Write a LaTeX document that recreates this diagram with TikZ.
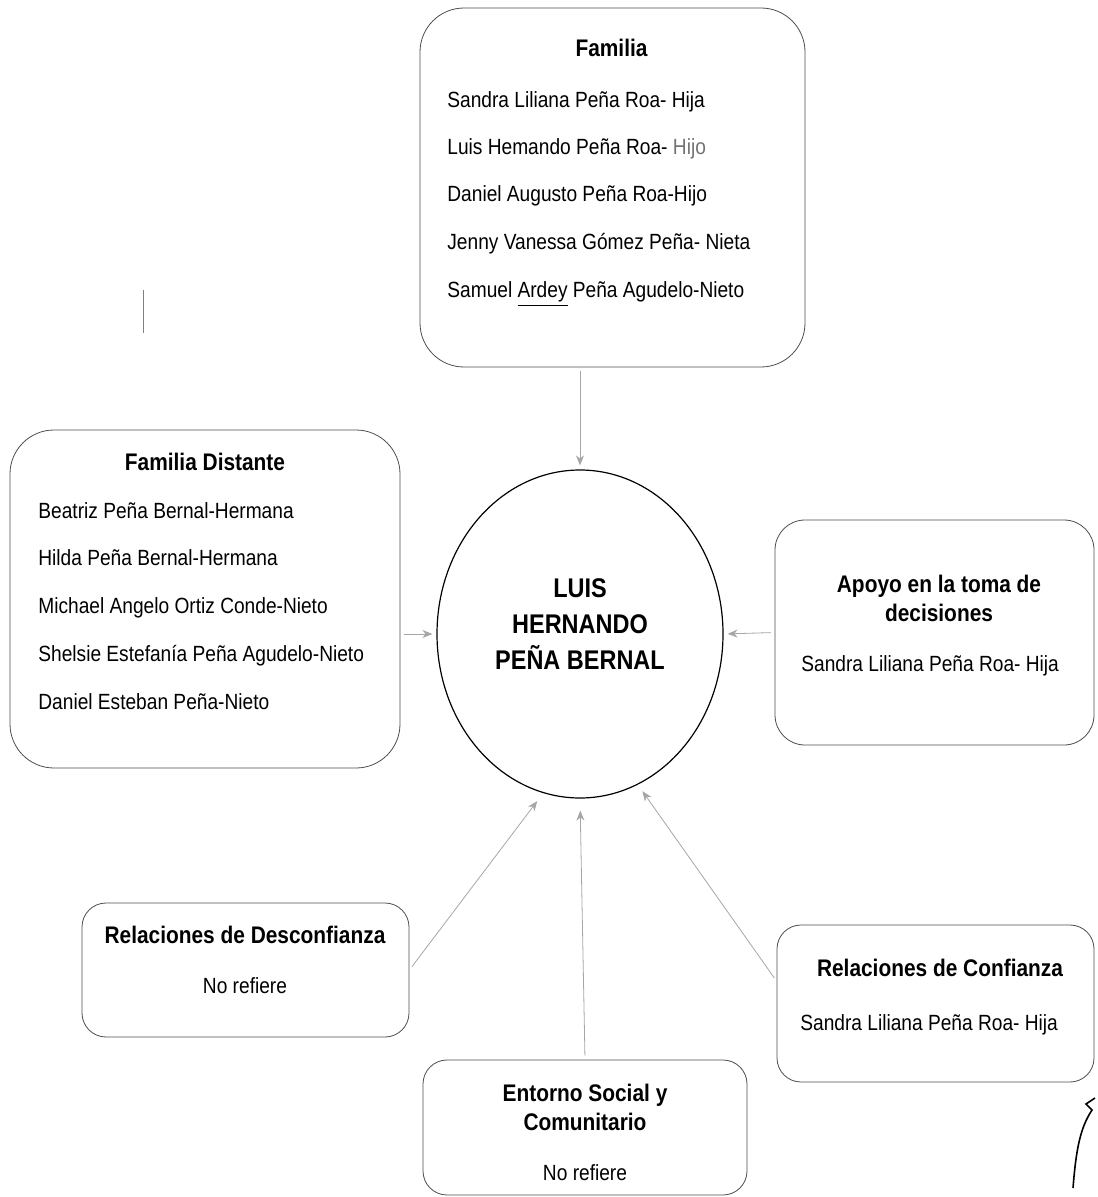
\documentclass[tikz,border=0pt]{standalone}
\usepackage{fontspec}
\setmainfont{Liberation Sans}[FakeStretch=0.87]
\usepackage{tikz}
\usetikzlibrary{arrows.meta, positioning, shapes.geometric, calc}
\colorlet{boxgray}{black!70}
\colorlet{arrowgray}{black!35}

\begin{document}
\begin{tikzpicture}[x=0.5pt, y=-0.5pt, >=Stealth,
    box/.style = {rectangle, rounded corners=22pt, draw=boxgray, thin},
    smallbox/.style = {box, rounded corners=12pt},
    head/.style = {font=\fontsize{12}{14.5}\selectfont\bfseries, inner sep=0pt, text height=8.5pt, text depth=0pt},
    headtwo/.style = {font=\fontsize{12}{14.5}\selectfont\bfseries, inner sep=0pt, align=center},
    item/.style = {font=\fontsize{11}{13}\selectfont, anchor=west, inner sep=0pt, text height=8pt, text depth=0pt},
    arrow/.style = {thin,->,>={Stealth[length=5pt,width=4pt]},arrowgray, shorten >=2pt, shorten <=2pt}]
        \useasboundingbox (0,0) rectangle (1097,1197);

        % Boxes
        \node (fam) [box, minimum width=192.5pt, minimum height=179.5pt] at (612.5,187.5) {};
        \node (dist) [box, minimum width=195pt, minimum height=169pt] at (205,599) {};
        \node (apoyo) [box, rounded corners=15pt, minimum width=159.5pt, minimum height=112.5pt] at (934.5,632.5) {};
        \node (desc) [smallbox, minimum width=163.5pt, minimum height=67pt] at (245.5,970) {};
        \node (entorno) [smallbox, minimum width=162pt, minimum height=67.5pt] at (585,1127.5) {};
        \node (conf) [smallbox, minimum width=158.5pt, minimum height=78.5pt] at (935.5,1003.5) {};
        \node (luis) [ellipse, draw, semithick, minimum width=143pt, minimum height=164pt] at (580,634) {};
        \node (luisname) [font=\fontsize{13.5}{18}\selectfont\bfseries, align=center] at (580,624) {LUIS\\HERNANDO\\PEÑA BERNAL};

        % Familia
        \node (famhead) [head] at (611.5,48) {Familia};
        \node (fam1) [item] at (447,100) {Sandra Liliana Peña Roa- Hija};
        \node (fam2) [item] at (447,147) {Luis Hemando Peña Roa- \textcolor{black!55}{Hijo}};
        \node (fam3) [item] at (447,194) {Daniel Augusto Peña Roa-Hijo};
        \node (fam4) [item] at (447,242) {Jenny Vanessa Gómez Peña- Nieta};
        \node (fam5) [item] at (447,290) {Samuel \underline{Ardey} Peña Agudelo-Nieto};

        % Familia distante
        \node (disthead) [head] at (205,462) {Familia Distante};
        \node (dist1) [item] at (38,510) {Beatriz Peña Bernal-Hermana};
        \node (dist2) [item] at (38,557) {Hilda Peña Bernal-Hermana};
        \node (dist3) [item] at (38,605) {Michael Angelo Ortiz Conde-Nieto};
        \node (dist4) [item] at (38,653) {Shelsie Estefanía Peña Agudelo-Nieto};
        \node (dist5) [item] at (38,701) {Daniel Esteban Peña-Nieto};

        % Apoyo
        \node (apoyohead) [headtwo] at (939,598) {Apoyo en la toma de\\decisiones};
        \node (apoyo1) [item] at (801,663) {Sandra Liliana Peña Roa- Hija};

        % Desconfianza
        \node (deschead) [head] at (245,935) {Relaciones de Desconfianza};
        \node (desc1) [item, anchor=center] at (245,985) {No refiere};

        % Entorno
        \node (entornohead) [headtwo] at (585,1107) {Entorno Social y\\Comunitario};
        \node (entorno1) [item, anchor=center] at (585,1172) {No refiere};

        % Confianza
        \node (confhead) [head] at (940,968) {Relaciones de Confianza};
        \node (conf1) [item] at (800,1022) {Sandra Liliana Peña Roa- Hija};

        % Arrows
        \draw [arrow] (luis.north |- fam.south) -- (luis.north);
        \draw [arrow] (dist.east |- luis.west) -- (luis.west);
        \draw [arrow] (apoyo.west) -- (luis.east);
        \draw [arrow, shorten >=5pt] (desc.east) -- (luis.257);
        \draw [arrow, shorten >=6pt] (entorno.north) -- (luis.south);
        \draw [arrow, shorten >=4pt] (conf.172) -- (luis.291);

        % stray marks
        \draw [black!50] (143,290) -- (143,333);
        \draw [black, thick] (1073,1188) .. controls (1076,1150) and (1080,1128) .. (1092,1110) -- (1086,1104) -- (1095,1098);
    \end{tikzpicture}
\end{document}
